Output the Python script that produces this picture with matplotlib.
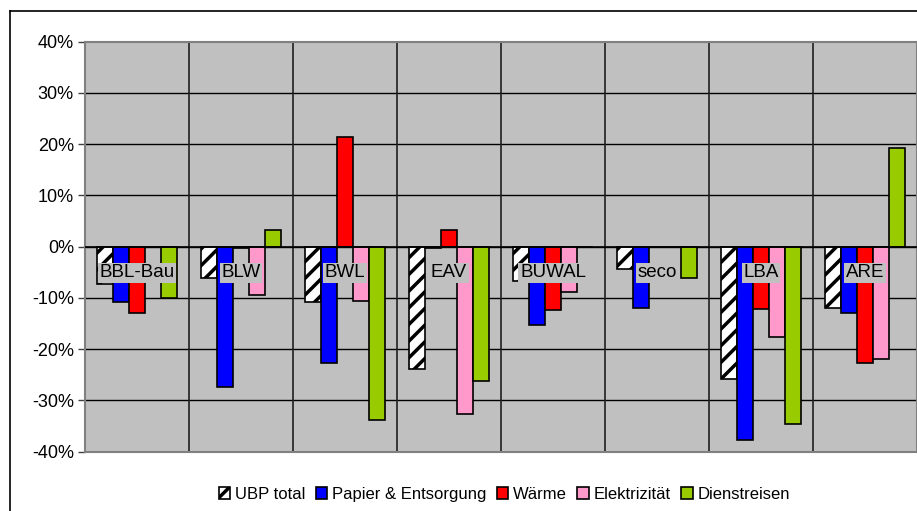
import matplotlib
matplotlib.use("Agg")
import matplotlib.pyplot as plt
from matplotlib.lines import Line2D
import numpy as np

plt.rcParams['font.family'] = ['Liberation Sans', 'DejaVu Sans']
plt.rcParams['hatch.linewidth'] = 2.5

categories = ['BBL-Bau', 'BLW', 'BWL', 'EAV', 'BUWAL', 'seco', 'LBA', 'ARE']
series = ['UBP total', 'Papier & Entsorgung', 'Wärme', 'Elektrizität', 'Dienstreisen']

ubp_total = [-7.3, -6.1, -10.8, -23.9, -6.7, -4.3, -25.9, -12.0]
papier = [-10.8, -27.4, -22.6, -0.3, -15.2, -11.9, -37.7, -13.0]
waerme = [-13.0, -0.3, 21.5, 3.3, -12.4, 0.0, -12.1, -22.6]
elektrizitaet = [0.0, -9.5, -10.6, -32.6, -8.9, 0.0, -17.6, -22.0]
dienstreisen = [-10.1, 3.2, -33.8, -26.2, 0.0, -6.2, -34.6, 19.3]

values = [ubp_total, papier, waerme, elektrizitaet, dienstreisen]
colors = ['white', '#0000FF', '#FF0000', '#FF99CC', '#99CC00']
hatches = ['//', None, None, None, None]

fig = plt.figure(figsize=(9.17, 5.11), dpi=100)
ax = fig.add_axes([85 / 917, (511 - 451.7) / 511, 1 - 85 / 917, (451.7 - 41.7) / 511])
ax.set_facecolor('#C0C0C0')

x = np.arange(len(categories))
w = 0.155
for i, (vals, c, h, name) in enumerate(zip(values, colors, hatches, series)):
    pos = x + (i - 2) * w
    ax.bar(pos, vals, width=w, color=c, edgecolor='black', linewidth=1.2,
           hatch=h, label=name, zorder=3)

ax.set_xlim(-0.5, len(categories) - 0.5)
ax.set_ylim(-40, 40)
ax.set_yticks(np.arange(-40, 41, 10))
ax.set_yticklabels([f'{t}%' for t in range(-40, 41, 10)], fontsize=13)
ax.tick_params(axis='y', length=5, width=1, color='#404040', pad=3)
ax.set_xticks([])

for t in range(-30, 40, 10):
    ax.axhline(t, color='black', linewidth=1, zorder=1)
ax.axhline(0, color='black', linewidth=1.2, zorder=4)
for b in np.arange(0.5, len(categories) - 0.5, 1):
    ax.axvline(b, color='#202020', linewidth=1.2, zorder=1)

for xi, cat in zip(x, categories):
    ax.text(xi, -5.1, cat, ha='center', va='center', fontsize=13.5, zorder=5,
            bbox=dict(facecolor='#C0C0C0', edgecolor='none', pad=1.2))

for s in ax.spines.values():
    s.set_color('#808080')
    s.set_linewidth(1.5)

leg = fig.legend(loc='center', bbox_to_anchor=(0.55, 0.032), ncol=5, frameon=False,
                 fontsize=12, handlelength=0.7, handleheight=0.7,
                 handletextpad=0.3, columnspacing=0.6)

# outer chart border
fig.add_artist(Line2D([10 / 917, 10 / 917], [0, 1 - 11 / 511], color='black', linewidth=1.2))
fig.add_artist(Line2D([10 / 917, 1], [1 - 11 / 511, 1 - 11 / 511], color='black', linewidth=1.2))

fig.savefig('out.png', dpi=100)
